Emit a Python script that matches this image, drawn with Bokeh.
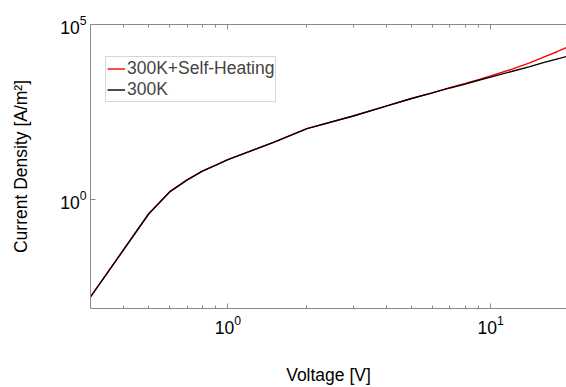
from bokeh.plotting import figure
from bokeh.models import LogAxis, FixedTicker, Range1d, Legend, LegendItem, CustomJSTickFormatter
from bokeh.embed import file_html
from bokeh.resources import INLINE

# Data
voltage = [0.3, 0.5, 0.6, 0.7, 0.8, 0.9, 1.0, 1.5, 2, 3, 4, 5, 6, 7, 8, 9, 10,
           12, 14, 16, 18, 20]
j_300k = [1.7e-3, 0.40, 1.68, 3.7, 6.6, 9.8, 14, 44, 107, 245, 470, 775, 1120,
          1550, 2000, 2570, 3160, 4570, 6170, 8300, 10500, 12900]
j_300k_sh = [1.7e-3, 0.40, 1.68, 3.7, 6.6, 9.8, 14, 44, 107, 245, 470, 775, 1120,
             1580, 2090, 2690, 3390, 5250, 7940, 12000, 17000, 24000]
series_names = ["300K+Self-Heating", "300K"]
x_major = [1, 10]
x_minor = [0.4, 0.5, 0.6, 0.7, 0.8, 0.9, 2, 3, 4, 5, 6, 7, 8, 9, 20]
y_major = [1, 1e5]

FONT = "Liberation Sans"
FS = "17.5px"
AX = "#8a8a8a"

p = figure(width=566, height=387, x_axis_type="log", y_axis_type="log",
           x_range=Range1d(0.3, 19.45), y_range=Range1d(10 ** -3.1, 1e5),
           output_backend="svg", toolbar_location=None,
           min_border_left=90, min_border_right=0, min_border_top=24,
           min_border_bottom=76)
p.outline_line_color = None
p.grid.visible = False
p.background_fill_color = "white"
p.border_fill_color = "white"

r1 = p.line(voltage, j_300k_sh, line_color="#ff0000", line_width=1.4)
r2 = p.line(voltage, j_300k, line_color="black", line_width=1.4)

def style(ax, major, minor):
    ax.ticker = FixedTicker(ticks=major, minor_ticks=minor)
    ax.axis_line_color = AX
    ax.major_tick_line_color = AX
    ax.minor_tick_line_color = AX
    ax.major_tick_in = 5
    ax.major_tick_out = 0
    ax.minor_tick_in = 3
    ax.minor_tick_out = 0
    ax.major_label_text_font = FONT
    ax.major_label_text_font_size = FS
    ax.major_label_text_color = "black"
    ax.axis_label_text_font = FONT
    ax.axis_label_text_font_size = FS
    ax.axis_label_text_font_style = "normal"
    ax.axis_label_text_color = "black"

xa = p.xaxis[0]
style(xa, x_major, x_minor)
xa.axis_label = "Voltage [V]"
xa.major_label_standoff = 6
xa.axis_label_standoff = 28

ya = p.yaxis[0]
style(ya, y_major, [])
ya.axis_label = "Current Density [A/m²]"
ya.major_label_standoff = 4
ya.axis_label_standoff = 26

top = LogAxis()
style(top, x_major, x_minor)
top.formatter = CustomJSTickFormatter(code="return ''")
top.major_label_standoff = 0
p.add_layout(top, "above")

legend = Legend(items=[LegendItem(label=series_names[0], renderers=[r1]),
                       LegendItem(label=series_names[1], renderers=[r2])],
                location=(15, 206))
legend.label_text_font = FONT
legend.label_text_font_size = FS
legend.label_height = 21
legend.glyph_height = 21
legend.glyph_width = 18
legend.label_standoff = 2
legend.padding = 1
legend.spacing = 0
legend.margin = 0
legend.border_line_color = "#b0b0b0"
legend.background_fill_alpha = 1
p.add_layout(legend, "center")

open("out.html", "w").write(file_html(p, INLINE))
